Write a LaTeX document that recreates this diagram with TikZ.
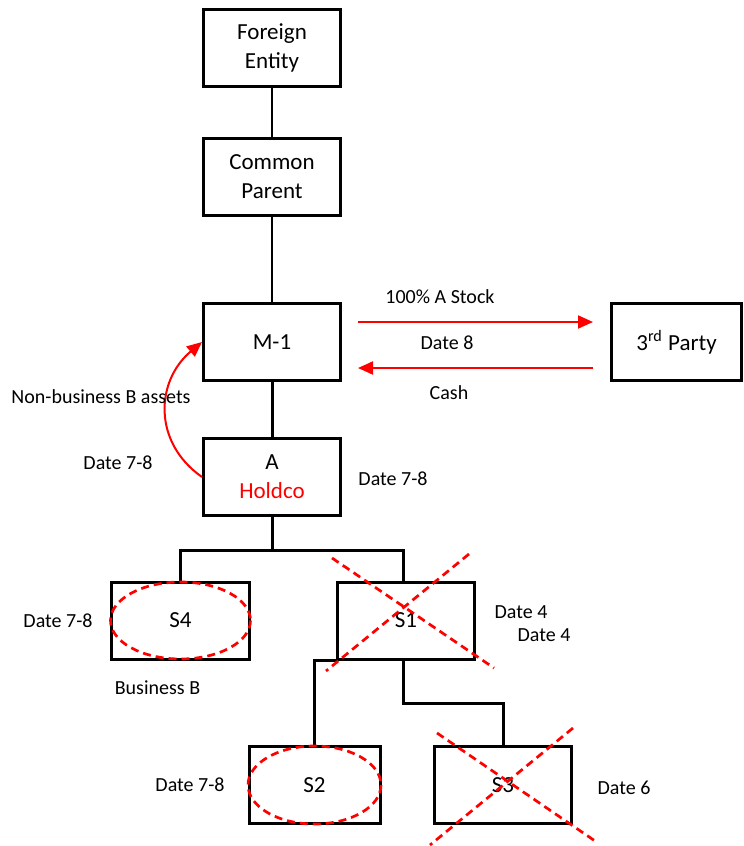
\documentclass[tikz,border=0pt]{standalone}
\usepackage{fontspec}
\setmainfont{Carlito}
\usepackage{xcolor}
\usepackage{tikz}
\usetikzlibrary{arrows.meta, positioning, calc}

\begin{document}
\begin{tikzpicture}[
    x=0.5pt, y=-0.5pt,
    entity/.style={draw, rectangle, line width=1.5pt, minimum width=68.5pt, minimum height=38.5pt, align=center, inner sep=2pt, font=\fontsize{11.5}{14.5}\selectfont},
    lbl/.style={inner sep=0pt, font=\fontsize{10}{12}\selectfont},
    thinlink/.style={line width=0.6pt},
    link/.style={line width=1.5pt},
    redarrow/.style={red, line width=1pt, -{Triangle[length=7.5pt,width=6.5pt]}},
    xmark/.style={red, line width=1.35pt, dash pattern=on 4pt off 2.5pt}
]
\useasboundingbox (0,0) rectangle (744,846);
% ownership chain
\node (fe) [entity] at (272,48) {Foreign\\Entity};
\node (cp) [entity, below=24.5pt of fe] {Common\\Parent};
\node (m1) [entity, below=42.5pt of cp] {M-1};
\node (holdco) [entity, below=27.5pt of m1] {A\\\textcolor{red}{Holdco}};
\node (third) [entity, minimum width=65pt, right=134pt of m1] {3\textsuperscript{rd} Party};
% subsidiaries
\node (s4) [entity, minimum width=69pt] at (180.5,620.5) {S4};
\node (s1) [entity] at (406,620.5) {S1};
\node (s2) [entity, minimum width=65.5pt] at (314.5,785) {S2};
\node (s3) [entity] at (503,785) {S3};

\draw[thinlink] (fe) -- (cp);
\draw[thinlink] (cp) -- (m1);
\draw[link] (m1) -- (holdco);
\draw[link] (holdco.south) -- ++(0,33) -| (s4.north);
\draw[link] (holdco.south) -- ++(0,33) -| ([xshift=-1.5pt]s1.north);
\draw[link] (s1.south west) -| (s2.north);
\draw[link] ([xshift=-1.5pt]s1.south) -- ++(0,43) -| (s3.north);

% sale of A stock for cash
\draw[redarrow] ([xshift=8pt,yshift=10pt]m1.east) -- ([xshift=-8.5pt,yshift=10pt]third.west);
\draw[redarrow] ([xshift=-8.5pt,yshift=-13pt]third.west) -- ([xshift=8pt,yshift=-13pt]m1.east);
\node (stocklbl) [lbl] at (440,297) {100\% A Stock};
\node (date8) [lbl] at (447,343) {Date 8};
\node (cashlbl) [lbl] at (449,393) {Cash};

% distribution up to M-1
\draw[redarrow] (holdco.west) to[out=145,in=220,looseness=1.15] (m1.west);
\node (nblbl) [lbl] at (101,397) {Non-business B assets};
\node (dateup) [lbl] at (118,463) {Date 7-8};
\node (dateA) [lbl] at (393,479) {Date 7-8};

% kept and liquidated subs
\draw[xmark] (s4.center) ellipse [x radius=70, y radius=38.5];
\draw[xmark] (s2.center) ellipse [x radius=66.5, y radius=39];
\draw[xmark] ($(s1.center)+(-74,-62.5)$) -- ($(s1.center)+(88,47.5)$);
\draw[xmark] ($(s1.center)+(63,-66.5)$) -- ($(s1.center)+(-80,50.5)$);
\draw[xmark] ($(s3.center)+(-66,-52)$) -- ($(s3.center)+(95,58)$);
\draw[xmark] ($(s3.center)+(70,-57)$) -- ($(s3.center)+(-73,60)$);

\node (dates4) [lbl] at (58,621) {Date 7-8};
\node (busb) [lbl] at (157.5,688) {Business B};
\node (dates1a) [lbl] at (521,612) {Date 4};
\node (dates1b) [lbl] at (544,635) {Date 4};
\node (dates2) [lbl] at (190,785) {Date 7-8};
\node (dates3) [lbl] at (624,788) {Date 6};
\end{tikzpicture}
\end{document}
